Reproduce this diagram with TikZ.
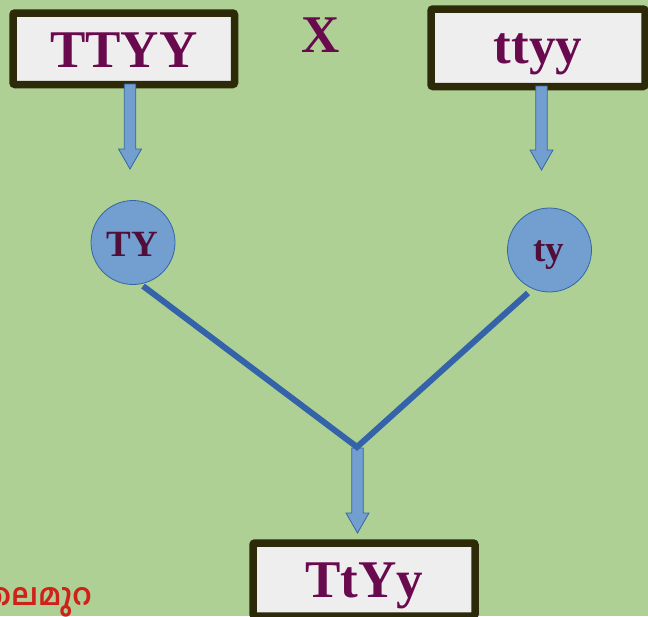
\documentclass[tikz,border=0pt]{standalone}
\usepackage{fontspec}
\setmainfont{Liberation Serif}
\newfontfamily\malfont[Script=Malayalam]{Hind Kochi}
\definecolor{bgcol}{HTML}{AFD095}
\definecolor{boxfill}{HTML}{EEEEEE}
\definecolor{boxline}{HTML}{2D2A0A}
\definecolor{txtpurple}{HTML}{6A0A4E}
\definecolor{circtxt}{HTML}{500E38}
\definecolor{bluefill}{HTML}{729FCF}
\definecolor{blueline}{HTML}{3465A4}
\definecolor{thickblue}{HTML}{3563A9}
\definecolor{maltxt}{HTML}{D0201A}
\tikzset{
  genobox/.style={draw=boxline, fill=boxfill, line width=7.5pt, rounded corners=2pt,
    inner sep=0pt, text=txtpurple, font=\fontsize{53}{60}\selectfont\bfseries, text depth=0pt},
  gamete/.style={circle, draw=blueline, fill=bluefill, line width=0.8pt, minimum size=84pt,
    inner sep=0pt},
  gametetxt/.style={inner sep=0pt, anchor=base, text=circtxt, font=\fontsize{37}{40}\selectfont\bfseries},
  blockarrow/.style={draw=blueline, fill=bluefill, line width=0.8pt, line join=miter},
  crossline/.style={draw=thickblue, line width=6pt},
}
\newcommand\BlockArrow[3]{%
  \draw[blockarrow] (#1-5.75,#2) -- (#1+5.75,#2) -- (#1+5.75,#3-20) -- (#1+11.5,#3-20)
    -- (#1,#3) -- (#1-11.5,#3-20) -- (#1-5.75,#3-20) -- cycle;}
\begin{document}
\begin{tikzpicture}[x=1pt,y=-1pt]
  \useasboundingbox (0,0) rectangle (648,616);
  \clip (0,0) rectangle (648,616);
  \fill[bgcol] (0,0) rectangle (648,616);

  % parents
  \node[genobox, minimum width=221.5pt, minimum height=71.5pt, text height=36.5pt] (p1) at (123.75,48.75) {TTYY};
  \node[genobox, minimum width=214pt, minimum height=77.5pt, text height=30.5pt] (p2) at (538,47.75) {ttyy};
  \node[inner sep=0pt, anchor=base, text=txtpurple, font=\fontsize{53}{60}\selectfont\bfseries] (cross) at (321,52) {X};

  % gametes
  \node[gamete] (g1) at (133,242.5) {};
  \node[gametetxt] (g1t) at (132.5,256.5) {TY};
  \node[gamete] (g2) at (549.5,250) {};
  \node[gametetxt] (g2t) at (549,261.5) {ty};

  % offspring
  \node[genobox, minimum width=222pt, minimum height=73pt, text height=35pt] (f1) at (364,579.5) {TtYy};

  % block arrows
  \BlockArrow{130}{84}{169}
  \BlockArrow{541.5}{86}{170}
  \BlockArrow{357.5}{448}{533}

  % crossing lines
  \coordinate (junction) at (357,447);
  \coordinate (s1) at (143,286);
  \coordinate (s2) at (528,293);
  \draw[crossline] (s1) -- (junction) -- (s2);

  % Malayalam label
  \node[inner sep=0pt, anchor=base east, text=maltxt, font=\malfont\fontsize{30}{34}\selectfont\bfseries] (mal) at (92,605) {തലമുറ};
\end{tikzpicture}
\end{document}
